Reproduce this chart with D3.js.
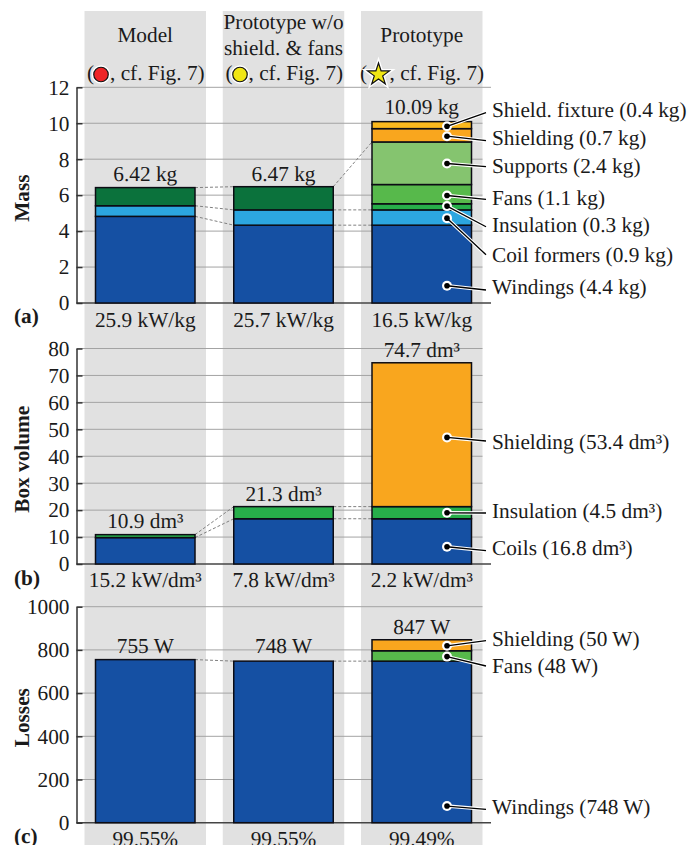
<!DOCTYPE html>
<html>
<head>
<meta charset="utf-8">
<script src="https://cdn.jsdelivr.net/npm/d3@7"></script>
<style>
  html, body { margin: 0; padding: 0; background: #fff; overflow: hidden; }
  svg { display: block; }
  text { font-family: "Liberation Serif", serif; font-size: 21.3px; fill: #1a1a1a; text-rendering: geometricPrecision; }
  .bold { font-weight: bold; }
</style>
</head>
<body>
<div class="chart"></div>
<script>
"use strict";

const WIDTH = 698, HEIGHT = 845;

// values
const columns = ["Model", "Prototype wo", "Prototype"];

const massParts = [
  ["windings", "formers", "dkgreen"],
  ["windings", "formers", "dkgreen"],
  ["windings", "formers", "insulation", "fans", "supports", "shielding", "fixture"],
];
const massValues = [
  [4.82, 0.59, 1.01],
  [4.33, 0.85, 1.29],
  [4.33, 0.85, 0.34, 1.07, 2.37, 0.74, 0.39],
];
const massTotals = ["6.42 kg", "6.47 kg", "10.09 kg"];
const massDensity = ["25.9 kW/kg", "25.7 kW/kg", "16.5 kW/kg"];
const massTicks = [0, 2, 4, 6, 8, 10, 12];
const massLinks = [
  [[4.82, 4.33], [5.41, 5.18], [6.42, 6.47]],
  [[4.33, 4.33], [5.18, 5.18], [6.47, 8.96]],
];
const massCallouts = ["Shield. fixture (0.4 kg)", "Shielding (0.7 kg)", "Supports (2.4 kg)", "Fans (1.1 kg)",
  "Insulation (0.3 kg)", "Coil formers (0.9 kg)", "Windings (4.4 kg)"];
const massDots = [9.83, 9.28, 7.76, 5.98, 5.39, 4.72, 0.96];

const volumeParts = [
  ["windings", "insulation"],
  ["windings", "insulation"],
  ["windings", "insulation", "shielding"],
];
const volumeValues = [
  [9.8, 1.1],
  [16.8, 4.5],
  [16.8, 4.5, 53.4],
];
const volumeTotals = ["10.9 dm³", "21.3 dm³", "74.7 dm³"];
const volumeDensity = ["15.2 kW/dm³", "7.8 kW/dm³", "2.2 kW/dm³"];
const volumeTicks = [0, 10, 20, 30, 40, 50, 60, 70, 80];
const volumeLinks = [
  [[9.8, 16.8], [10.9, 21.3]],
  [[16.8, 16.8], [21.3, 21.3]],
];
const volumeCallouts = ["Shielding (53.4 dm³)", "Insulation (4.5 dm³)", "Coils (16.8 dm³)"];
const volumeDots = [47, 19, 6.4];

const lossParts = [["windings"], ["windings"], ["windings", "fans", "shielding"]];
const lossValues = [[755], [748], [748, 48, 51]];
const lossTotals = ["755 W", "748 W", "847 W"];
const lossEfficiency = ["99.55%", "99.55%", "99.49%"];
const lossTicks = [0, 200, 400, 600, 800, 1000];
const lossLinks = [[[755, 748]], [[748, 748]]];
const lossCallouts = ["Shielding (50 W)", "Fans (48 W)", "Windings (748 W)"];
const lossDots = [819, 769, 77];

const partColor = d3.scaleOrdinal()
  .domain(["windings", "formers", "dkgreen", "insulation", "fans", "supports", "shielding", "fixture"])
  .range(["#1550a3", "#2ca6e0", "#0b723c", "#27ae4a", "#57b94b", "#85c46f", "#f9a61e", "#fbb81d"]);

/* ^^^ DATA ^^^ */

const AXIS_X = 76.5, AXIS_END = 491, GRID_END = 482.5;
const COL_W = 121.5, BAR_W = 99.5;
const DOT_X = 447, LINE_END = 486, LABEL_X = 492;

const xScale = d3.scalePoint().domain(columns).range([145.25, 421.75]);

const svg = d3.select(".chart").append("svg").attr("width", WIDTH).attr("height", HEIGHT);

// gray column backgrounds
svg.selectAll("rect.col")
  .data(columns)
  .enter()
  .append("rect")
  .attr("class", "col")
  .attr("x", (d) => xScale(d) - COL_W / 2)
  .attr("y", 11)
  .attr("width", COL_W)
  .attr("height", HEIGHT - 11)
  .style("fill", "#e1e1e1");

function drawPanel(p) {
  const y = d3.scaleLinear().domain(p.domain).range([p.bottom, p.top]);
  const g = svg.append("g");

  // Draws the grid
  g.selectAll("line.grid")
    .data(p.ticks)
    .enter()
    .append("line")
    .attr("x1", AXIS_X)
    .attr("x2", (d) => (d === 0 || p.longTop && d === p.domain[1] ? AXIS_END : GRID_END))
    .attr("y1", (d) => y(d))
    .attr("y2", (d) => y(d))
    .style("stroke", (d) => (d === 0 ? "#444" : "#a3a3a3"))
    .style("stroke-width", (d) => (d === 0 ? 1.5 : 1));

  // dashed connectors between the bars
  p.links.forEach((gap, i) => {
    g.selectAll(null)
      .data(gap)
      .enter()
      .append("line")
      .attr("x1", xScale(columns[i]) + BAR_W / 2)
      .attr("x2", xScale(columns[i + 1]) - BAR_W / 2)
      .attr("y1", (d) => y(d[0]))
      .attr("y2", (d) => y(d[1]))
      .style("stroke", "#808080")
      .style("stroke-width", 1)
      .style("stroke-dasharray", "3 2");
  });

  // Draws the stacked bars
  columns.forEach((col, i) => {
    const tops = Array.from(d3.cumsum(p.values[i]));
    g.selectAll(null)
      .data(p.values[i])
      .enter()
      .append("rect")
      .attr("x", xScale(col) - BAR_W / 2)
      .attr("y", (d, j) => y(tops[j]))
      .attr("width", BAR_W)
      .attr("height", (d) => y(0) - y(d))
      .style("fill", (d, j) => partColor(p.parts[i][j]))
      .style("stroke", "#0c0c14")
      .style("stroke-width", 1.5);

    g.append("text")
      .attr("x", xScale(col))
      .attr("y", p.totalY[i])
      .attr("text-anchor", "middle")
      .text(p.totals[i]);

    g.append("text")
      .attr("x", xScale(col))
      .attr("y", p.footY)
      .attr("text-anchor", "middle")
      .text(p.foot[i]);
  });

  // Draws the axis, ticks point into the plot
  const axis = g.append("g")
    .attr("transform", `translate(${AXIS_X},0)`)
    .call(d3.axisLeft(y).tickValues(p.ticks).tickFormat(d3.format("d")).tickSize(-6).tickPadding(7).tickSizeOuter(0));
  axis.selectAll("path, line").style("stroke", "#333").style("stroke-width", 1.5);
  axis.selectAll("text").style("font-family", '"Liberation Serif", serif').style("font-size", "21.3px").style("fill", "#1a1a1a");

  g.append("text")
    .attr("class", "bold")
    .attr("transform", `translate(${29},${(p.top + p.bottom) / 2 + p.titleShift}) rotate(-90)`)
    .attr("text-anchor", "middle")
    .text(p.title);

  g.append("text").attr("class", "bold").attr("x", 14).attr("y", p.tagY).text(p.tag);

  // Callouts: white halo first, then the black line and dot
  p.callouts.forEach((label, i) => {
    const dotY = y(p.dots[i]);
    g.append("line")
      .attr("x1", DOT_X).attr("y1", dotY)
      .attr("x2", LINE_END).attr("y2", p.lineEnds[i])
      .style("stroke", "#fff").style("stroke-width", 3.5);
    g.append("circle")
      .attr("cx", DOT_X).attr("cy", dotY).attr("r", 5)
      .style("fill", "#fff");
    g.append("line")
      .attr("x1", DOT_X).attr("y1", dotY)
      .attr("x2", LINE_END).attr("y2", p.lineEnds[i])
      .style("stroke", "#000").style("stroke-width", 1.3);
    g.append("circle")
      .attr("cx", DOT_X).attr("cy", dotY).attr("r", 2.8)
      .style("fill", "#000");
    g.append("text").attr("x", LABEL_X).attr("y", p.labelY[i]).text(label);
  });
}

drawPanel({
  domain: [0, 12], ticks: massTicks, top: 87.3, bottom: 303, longTop: true,
  parts: massParts, values: massValues, totals: massTotals, foot: massDensity,
  links: massLinks, callouts: massCallouts, dots: massDots,
  totalY: [181, 181, 114], footY: 327,
  lineEnds: [112.7, 140.7, 166.7, 199.3, 226.7, 254.7, 290],
  labelY: [116.5, 145, 173, 205, 231.5, 261.5, 293.5],
  title: "Mass", titleShift: 3, tag: "(a)", tagY: 323,
});

drawPanel({
  domain: [0, 80], ticks: volumeTicks, top: 348.5, bottom: 564,
  parts: volumeParts, values: volumeValues, totals: volumeTotals, foot: volumeDensity,
  links: volumeLinks, callouts: volumeCallouts, dots: volumeDots,
  totalY: [527.5, 500.5, 357], footY: 587,
  lineEnds: [441, 513, 550.7],
  labelY: [448.5, 518, 555],
  title: "Box volume", titleShift: 3, tag: "(b)", tagY: 585,
});

drawPanel({
  domain: [0, 1000], ticks: lossTicks, top: 606.7, bottom: 822.7,
  parts: lossParts, values: lossValues, totals: lossTotals, foot: lossEfficiency,
  links: lossLinks, callouts: lossCallouts, dots: lossDots,
  totalY: [652.5, 652.5, 634], footY: 846,
  lineEnds: [640.7, 666, 809.3],
  labelY: [646, 673, 814],
  title: "Losses", titleShift: 3, tag: "(c)", tagY: 843,
});

// Column headers
svg.append("text").attr("x", 145.25).attr("y", 42).attr("text-anchor", "middle").text("Model");
svg.append("text").attr("x", 283.5).attr("y", 29).attr("text-anchor", "middle").text("Prototype w/o");
svg.append("text").attr("x", 283.5).attr("y", 55).attr("text-anchor", "middle").text("shield. & fans");
svg.append("text").attr("x", 421.75).attr("y", 42).attr("text-anchor", "middle").text("Prototype");

const HEAD_Y = 80;
const refs = [
  { open: 87, close: 110, cx: 101, fill: "#ee2527" },
  { open: 225.5, close: 248.5, cx: 240, fill: "#f0e614" },
  { open: 360, close: 389.5, cx: 378.5, fill: "#f0e614", star: true },
];

refs.forEach((r) => {
  svg.append("text").attr("x", r.open).attr("y", HEAD_Y).text("(");
  svg.append("text").attr("x", r.close).attr("y", HEAD_Y).text(", cf. Fig. 7)");
  const sym = d3.symbol().type(r.star ? d3.symbolStar : d3.symbolCircle).size(r.star ? 150 : 165);
  svg.append("path")
    .attr("d", sym())
    .attr("transform", `translate(${r.cx},74.5)`)
    .style("fill", "none")
    .style("stroke", "#fff")
    .style("stroke-width", 4);
  svg.append("path")
    .attr("d", sym())
    .attr("transform", `translate(${r.cx},74.5)`)
    .style("fill", r.fill)
    .style("stroke", "#111")
    .style("stroke-width", 1.2);
});
</script>
</body>
</html>
